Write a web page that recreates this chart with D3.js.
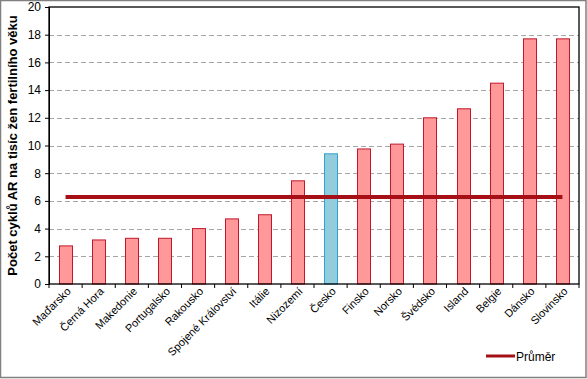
<!DOCTYPE html>
<html>
<head>
<meta charset="utf-8">
<script src="https://cdn.jsdelivr.net/npm/d3@7"></script>
<style>
  body { margin: 0; background: #fff; }
  svg { font-family: Arial, "Liberation Sans", sans-serif; display: block; }
</style>
</head>
<body>
<div id="chart"></div>
<script>
// data
const countries = ['Maďarsko', 'Černá Hora', 'Makedonie', 'Portugalsko', 'Rakousko', 'Spojené Království',
  'Itálie', 'Nizozemí', 'Česko', 'Finsko', 'Norsko', 'Švédsko', 'Island', 'Belgie', 'Dánsko', 'Slovinsko'];
const cycles = [2.75, 3.18, 3.3, 3.3, 4.0, 4.7, 5.0, 7.45, 9.4, 9.75, 10.1, 12.0, 12.65, 14.5, 17.7, 17.7];
const average = 6.28;
const highlight = 'Česko';
const yTicks = [0, 2, 4, 6, 8, 10, 12, 14, 16, 18, 20];
const yTitle = 'Počet cyklů AR na tisíc žen fertilního věku';
const legendLabel = 'Průměr';

const W = 587, H = 379;
const margin = { top: 7, right: 8, bottom: 95, left: 49 }; // plot box
const pw = W - margin.left - margin.right,
  ph = H - margin.top - margin.bottom;

const svg = d3.select('#chart').append('svg')
  .attr('width', W).attr('height', H);

// outer frame
svg.append('rect')
  .attr('x', 0.5).attr('y', 0.5).attr('width', W - 1.5).attr('height', H - 2)
  .attr('fill', '#fff').attr('stroke', '#808080').attr('stroke-width', 1.5);

const g = svg.append('g').attr('transform', `translate(${margin.left},${margin.top})`);

const x = d3.scaleBand().domain(countries).range([0, pw]).paddingInner(0).paddingOuter(0);
const y = d3.scaleLinear().domain([0, 20]).range([ph, 0]);

// gridlines
g.selectAll('.grid').data(yTicks.filter(t => t > 0 && t < 20)).enter().append('line')
  .attr('x1', 0).attr('x2', pw)
  .attr('y1', d => Math.round(y(d)) + 0.5).attr('y2', d => Math.round(y(d)) + 0.5)
  .attr('stroke', '#a6a6a6').attr('stroke-dasharray', '5,3');

// bars
const bw = 13;
g.selectAll('.bar').data(countries).enter().append('rect')
  .attr('x', d => Math.round(x(d) + x.bandwidth() / 2 - bw / 2) + 0.5)
  .attr('y', (d, i) => y(cycles[i]))
  .attr('width', bw)
  .attr('height', (d, i) => ph - y(cycles[i]))
  .attr('fill', d => d === highlight ? '#93cddd' : '#ff9999')
  .attr('stroke', d => d === highlight ? '#31a2c8' : '#c0182a')
  .attr('stroke-width', 1);

// average line
g.append('line')
  .attr('x1', x(countries[0]) + x.bandwidth() / 2)
  .attr('x2', x(countries[countries.length - 1]) + x.bandwidth() / 2)
  .attr('y1', y(average)).attr('y2', y(average))
  .attr('stroke', '#a50f15').attr('stroke-width', 4);

// plot border
g.append('rect').attr('x', 0).attr('y', 0).attr('width', pw).attr('height', ph)
  .attr('fill', 'none').attr('stroke', '#000').attr('stroke-width', 1.3);

// y axis
const yAxis = g.append('g')
  .call(d3.axisLeft(y).tickValues(yTicks).tickSize(4).tickFormat(d3.format('d')));
yAxis.select('.domain').attr('stroke', '#000');
yAxis.selectAll('text').attr('font-size', 12).attr('fill', '#000').attr('dx', -1);

// x axis
const xAxis = g.append('g').attr('transform', `translate(0,${ph})`)
  .call(d3.axisBottom(x).tickSize(0).tickFormat(''));
xAxis.select('.domain').remove();
g.selectAll('.xtick').data(d3.range(countries.length + 1)).enter().append('line')
  .attr('x1', i => i * x.step()).attr('x2', i => i * x.step())
  .attr('y1', ph).attr('y2', ph + 4).attr('stroke', '#000');

g.selectAll('.xlabel').data(countries).enter().append('text')
  .attr('transform', d => `translate(${x(d) + x.bandwidth() / 2 + 6},${ph + 8}) rotate(-45)`)
  .attr('text-anchor', 'end')
  .attr('font-size', 11)
  .attr('fill', '#000')
  .text(d => d);

// y title
svg.append('text')
  .attr('transform', `translate(17,${margin.top + ph / 2}) rotate(-90)`)
  .attr('text-anchor', 'middle')
  .attr('font-size', 13).attr('font-weight', 'bold')
  .text(yTitle);

// legend
svg.append('line').attr('x1', 486).attr('x2', 515).attr('y1', 356).attr('y2', 356)
  .attr('stroke', '#a50f15').attr('stroke-width', 3);
svg.append('text').attr('x', 516).attr('y', 361).attr('font-size', 12).text(legendLabel);
</script>
</body>
</html>
